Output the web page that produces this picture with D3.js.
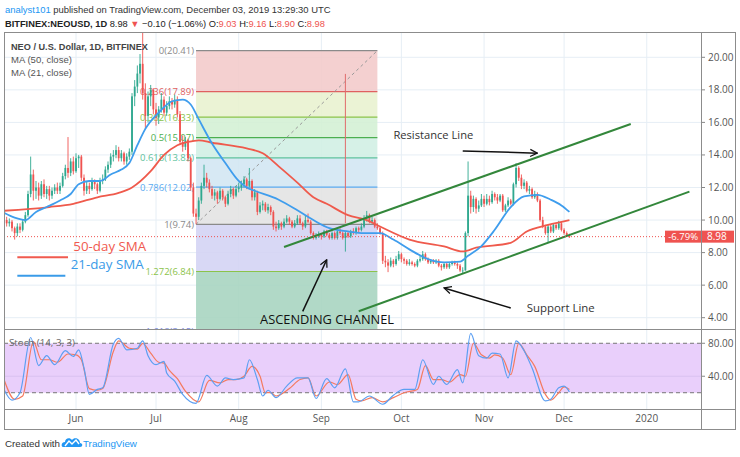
<!DOCTYPE html>
<html><head><meta charset="utf-8">
<script src="https://cdn.jsdelivr.net/npm/d3@7"></script>
<style>body{margin:0;background:#fff;} svg{display:block;font-family:"Open Sans","Liberation Sans",sans-serif;}</style>
</head><body><svg id="c" width="740" height="457"></svg>
<script>
// ---------- DATA ----------
const firstDay = "2019-05-05";           // first daily candle
const lastDay  = "2020-01-21";           // right edge of the time scale
// daily candles [open, high, low, close]
const mayBars = [
[10.2,10.4,9.8,10.0],[10.0,10.2,9.6,9.8],[9.8,10.1,9.6,9.9],[9.9,10.0,9.3,9.5],[9.5,9.6,8.8,9.2],
[9.2,9.8,9.0,9.6],[9.6,9.8,9.2,9.4],[9.4,10.0,9.3,9.9],[9.9,10.5,9.8,10.3],[10.3,11.8,10.2,11.6],
[11.6,13.9,11.4,12.8],[12.8,13.1,11.2,11.8],[11.8,12.4,11.3,12.0],[12.0,12.3,11.2,11.5],[11.5,12.4,11.3,12.2],
[12.2,12.5,11.4,11.6],[11.6,12.1,11.3,11.9],[11.9,12.1,11.2,11.5],[11.5,12.0,11.3,11.8],[11.8,12.2,11.6,12.0],
[12.0,12.3,11.6,11.8],[11.8,12.3,11.6,12.1],[12.1,12.9,12.0,12.7],[12.7,13.4,12.5,13.2],[13.2,15.1,12.6,12.9],
[12.9,13.8,12.7,13.6],[13.6,13.9,12.8,13.0]];
const junBars = [
[13.0,14.1,12.9,13.8],[13.8,14.0,13.2,13.9],[13.9,14.0,12.4,12.6],[12.6,12.8,11.5,11.8],[11.8,12.4,11.6,12.1],
[12.1,12.3,11.6,11.9],[11.9,12.6,11.8,12.4],[12.4,12.5,11.9,12.2],[12.2,12.3,11.6,11.8],[11.8,12.6,11.7,12.4],
[12.4,12.8,12.2,12.5],[12.5,13.3,12.4,13.1],[13.1,13.6,12.9,13.4],[13.4,14.1,13.2,13.9],[13.9,14.3,13.6,14.0],
[14.0,14.6,13.8,14.3],[14.3,14.5,13.6,13.8],[13.8,14.3,13.6,14.1],[14.1,14.2,13.4,13.6],[13.6,14.1,13.4,13.9],
[13.9,14.4,13.7,14.2],[14.2,17.8,14.0,17.6],[17.6,18.6,17.0,18.2],[18.2,19.5,17.8,19.0],[19.0,20.2,18.4,19.6],
[19.6,21.8,17.4,17.8],[17.8,18.4,15.6,16.4],[16.4,17.9,16.0,17.6],[17.6,18.3,17.0,18.0],[18.0,18.1,16.5,16.8]];
const julBars = [
[16.8,17.2,15.8,16.3],[16.3,17.0,15.9,16.8],[16.8,17.8,16.6,17.4],[17.4,17.6,16.4,16.6],[16.6,17.3,16.4,17.0],
[17.0,17.6,16.8,17.3],[17.3,17.5,16.8,17.1],[17.1,17.7,16.9,17.4],[17.4,17.6,16.3,16.5],[16.5,16.7,14.6,14.8],
[14.8,15.2,14.2,14.5],[14.5,15.1,14.3,14.9],[14.9,15.0,13.6,13.8],[13.8,13.9,11.8,12.0],[12.0,12.3,10.2,10.4],
[10.4,10.7,9.74,10.2],[10.2,11.4,10.0,11.2],[11.2,12.3,11.0,12.1],[12.1,13.4,11.9,12.6],[12.6,12.9,12.0,12.3],
[12.3,12.5,11.7,11.9],[11.9,12.1,11.3,11.5],[11.5,11.9,11.2,11.7],[11.7,11.8,11.0,11.3],[11.3,12.0,11.2,11.8],
[11.8,11.9,11.2,11.4],[11.4,11.5,10.8,11.0],[11.0,11.8,10.9,11.6],[11.6,12.1,11.4,11.9],[11.9,12.0,11.3,11.5],
[11.5,12.1,11.4,11.9]];
const augBars = [
[11.9,12.3,11.7,12.0],[12.0,12.4,11.8,12.2],[12.2,12.7,12.0,12.5],[12.5,12.6,11.9,12.1],[12.1,13.2,12.0,12.4],
[12.4,12.5,11.2,11.4],[11.4,11.9,11.2,11.7],[11.7,11.8,10.3,10.5],[10.5,11.1,10.4,10.9],[10.9,11.2,10.6,11.0],
[11.0,11.1,10.5,10.6],[10.6,11.0,10.4,10.8],[10.8,10.9,10.3,10.5],[10.5,10.6,9.4,9.6],[9.6,9.9,9.3,9.5],
[9.5,10.0,9.4,9.8],[9.8,9.9,9.4,9.6],[9.6,10.1,9.5,9.9],[9.9,10.3,9.8,10.1],[10.1,10.2,9.7,9.9],
[9.9,10.0,9.5,9.6],[9.6,10.0,9.5,9.8],[9.8,10.3,9.7,10.1],[10.1,10.3,9.7,9.8],[9.8,9.9,9.4,9.6],
[9.6,10.3,9.5,10.0],[10.0,10.4,9.8,9.9],[9.9,10.0,9.1,9.2],[9.2,9.3,8.8,8.9],[8.9,9.2,8.8,9.0],
[9.0,9.3,8.9,9.1]];
const sepBars = [
[9.1,9.2,8.8,9.0],[9.0,9.4,8.9,9.3],[9.3,9.4,9.0,9.1],[9.1,9.2,8.8,8.9],[8.9,9.3,8.8,9.2],
[9.2,9.3,8.8,8.9],[8.9,9.5,8.8,9.3],[9.3,9.5,9.1,9.2],[9.2,9.3,8.8,8.9],[8.9,9.3,8.06,9.2],
[9.2,9.3,8.9,9.0],[9.0,9.4,8.9,9.3],[9.3,9.5,9.1,9.2],[9.2,9.6,9.1,9.5],[9.5,9.6,9.2,9.4],
[9.4,9.8,9.3,9.6],[9.6,10.3,9.5,10.1],[10.1,10.56,9.9,10.3],[10.3,10.4,9.8,9.9],[9.9,10.2,9.8,10.0],
[10.0,10.1,9.5,9.6],[9.6,9.8,9.4,9.5],[9.5,9.6,9.1,9.2],[9.2,9.3,7.3,7.5],[7.5,7.8,7.1,7.4],
[7.4,7.6,6.8,7.2],[7.2,7.7,7.1,7.5],[7.5,7.6,7.1,7.3],[7.3,7.8,7.2,7.6],[7.6,8.1,7.5,7.9]];
const octBars = [
[7.9,8.0,7.4,7.6],[7.6,7.7,7.3,7.5],[7.5,7.6,7.2,7.3],[7.3,7.6,7.2,7.4],[7.4,7.5,7.2,7.3],
[7.3,7.4,7.1,7.2],[7.2,7.6,7.1,7.5],[7.5,7.8,7.4,7.6],[7.6,8.1,7.5,7.9],[7.9,8.0,7.5,7.6],
[7.6,7.7,7.3,7.4],[7.4,7.6,7.3,7.5],[7.5,7.6,7.3,7.4],[7.4,7.6,7.3,7.5],[7.5,7.6,7.1,7.2],
[7.2,7.3,6.9,7.1],[7.1,7.4,7.0,7.3],[7.3,7.4,7.0,7.1],[7.1,7.4,7.0,7.3],[7.3,7.5,7.2,7.4],
[7.4,7.5,7.2,7.3],[7.3,7.4,7.0,7.2],[7.2,7.3,6.8,6.9],[6.9,7.1,6.7,6.9],[6.9,9.3,6.9,9.2],
[9.2,13.6,9.0,11.5],[11.5,11.8,10.4,10.8],[10.8,11.5,10.5,11.3],[11.3,11.4,10.4,10.7],[10.7,11.2,10.5,10.9],
[10.9,11.6,10.8,11.3]];
const novBars = [
[11.3,11.5,10.8,11.0],[11.0,11.6,10.9,11.3],[11.3,11.5,10.9,11.1],[11.1,11.8,11.0,11.6],[11.6,11.7,11.2,11.4],
[11.4,11.6,11.0,11.2],[11.2,11.6,11.1,11.5],[11.5,11.6,10.5,10.6],[10.6,11.0,10.5,10.9],[10.9,11.4,10.8,11.2],
[11.2,11.3,10.9,11.0],[11.0,12.3,10.9,12.2],[12.2,13.5,12.0,13.2],[13.2,13.3,12.4,12.6],[12.6,12.8,11.9,12.1],
[12.1,12.5,11.9,12.3],[12.3,12.4,11.7,11.8],[11.8,12.1,11.6,11.9],[11.9,12.0,11.3,11.4],[11.4,11.8,11.3,11.6],
[11.6,11.7,11.1,11.2],[11.2,11.3,9.9,10.0],[10.0,10.2,9.5,9.6],[9.6,9.7,9.1,9.2],[9.2,9.7,8.6,9.6],
[9.6,9.7,9.2,9.3],[9.3,9.8,9.2,9.7],[9.7,9.8,9.4,9.5],[9.5,9.95,9.4,9.8],[9.8,9.9,9.3,9.4]];
const decBars = [[9.4,9.5,9.1,9.2],[9.2,9.3,9.0,9.08],[9.03,9.16,8.90,8.98]];

// moving averages [dayIndex, value]
const ma50 = [[0,10.57],[17,10.8],[26,11.0],[35,11.4],[43,11.67],[48,12.0],[55,13.0],[60,14.0],[65,14.6],[69,14.8],
 [73,14.9],[78,14.75],[91,14.4],[97,14.1],[103,13.3],[110,12.3],[116,11.4],[121,11.0],[129,10.3],[136,10.0],
 [141,9.6],[152,8.8],[165,8.38],[172,8.07],[177,8.3],[190,8.6],[196,9.3],[204,9.7],[212,10.0]];
const ma21 = [[0,10.45],[4,10.15],[8,10.0],[12,10.5],[16,10.8],[21,11.2],[25,11.6],[28,12.2],[32,12.4],[36,12.4],
 [40,12.8],[44,13.1],[47,13.5],[50,14.6],[53,15.6],[58,16.6],[63,17.3],[67,17.4],[70,17.1],[73,16.2],[78,14.7],
 [83,13.5],[88,12.4],[91,12.0],[94,11.8],[103,11.25],[110,10.6],[116,10.0],[122,9.5],[129,9.3],[135,9.2],[141,9.2],
 [146,8.8],[152,8.2],[159,7.6],[165,7.4],[171,7.45],[174,7.8],[179,8.4],[184,9.4],[190,10.8],[195,11.45],[200,11.55],
 [205,11.25],[209,10.9],[212,10.5]];

// stochastic (14,3,3) [dayIndex, value]
const stochK = [[0,24],[3,11],[6,20],[10,87],[13,53],[16,65],[19,54],[23,71],[26,64],[28,72],[30,50],[32,18],[35,24],
 [37,26],[41,79],[43,86],[46,72],[50,74],[52,83],[54,65],[57,54],[60,58],[61,44],[64,34],[67,18],[72,7],[76,41],
 [80,28],[83,38],[86,36],[90,38],[92,60],[95,36],[97,16],[99,23],[102,14],[106,28],[110,38],[114,38],[117,13],
 [121,37],[124,26],[128,49],[131,9],[133,9],[137,16],[142,6],[146,17],[150,24],[154,24],[157,60],[161,30],[163,40],
 [166,30],[170,48],[172,32],[175,92],[178,65],[181,62],[183,68],[186,67],[189,38],[192,83],[195,71],[198,50],
 [203,10],[205,12],[208,26],[210,28],[212,21]];
const stochD = [[0,36],[4,12],[7,16],[11,82],[14,60],[17,60],[20,57],[24,67],[27,66],[29,60],[32,25],[35,23],[37,25],
 [41,70],[43,83],[47,74],[50,73],[52,80],[55,68],[58,57],[60,56],[62,47],[65,37],[68,22],[73,9],[77,35],[81,32],
 [84,36],[87,36],[90,40],[93,52],[96,40],[98,20],[100,20],[102,16],[107,25],[111,36],[114,38],[117,16],[122,33],
 [125,30],[129,42],[132,12],[134,10],[138,14],[142,9],[146,14],[150,20],[155,24],[158,53],[161,36],[164,36],
 [167,33],[171,42],[173,40],[176,80],[179,66],[182,62],[184,66],[187,62],[190,42],[193,80],[196,66],[199,52],
 [203,18],[205,11],[208,20],[210,27],[212,24]];

// fibonacci retracement
const fibStart = "2019-07-16", fibEnd = "2019-09-22";
const fibRatios = [0, 0.236, 0.382, 0.5, 0.618, 0.786, 1, 1.272, 1.618];
const fibValues = [20.41, 17.89, 16.33, 15.07, 13.82, 12.02, 9.74, 6.84, 3.15];

const priceTicks = [4, 6, 8, 10, 12, 14, 16, 18, 20];
const stochTicks = [40, 80];
const lastPrice = 8.98, lastPct = "-6.79%";
const header = {user:"analyst101", date:"December 03, 2019 13:29:30 UTC", sym:"BITFINEX:NEOUSD, 1D",
  last:"8.98", chg:"\u22120.10 (\u22121.06%)", o:"9.03", h:"9.16", l:"8.90", c:"8.98"};

// ---------- SETUP ----------
const parse = d3.utcParse("%Y-%m-%d");
const t0 = parse(firstDay);
const bars = [...mayBars, ...junBars, ...julBars, ...augBars, ...sepBars, ...octBars, ...novBars, ...decBars];
const day = i => d3.utcDay.offset(t0, i);

const L = 4, R = 701, T = 32, B = 329, SB = 409, AB = 429, RR = 736;
const x = d3.scaleUtc().domain([t0, parse(lastDay)]).range([4, 700.1]);
const y = d3.scaleLinear().domain([4, 20]).range([317.7, 57.3]);
const ys = d3.scaleLinear().domain([0, 100]).range([409.2, 326.8]);
const uiFont = "'Liberation Sans', Arial, sans-serif";

const svg = d3.select("#c");
const defs = svg.append("defs");
defs.append("clipPath").attr("id","mainClip").append("rect").attr("x",L).attr("y",T).attr("width",R-L).attr("height",B-T);
defs.append("clipPath").attr("id","stClip").append("rect").attr("x",L).attr("y",B).attr("width",R-L).attr("height",SB-B);
defs.append("marker").attr("id","arr").attr("viewBox","0 0 10 10").attr("refX",9).attr("refY",5)
  .attr("markerWidth",9).attr("markerHeight",9).attr("orient","auto").attr("markerUnits","userSpaceOnUse")
  .append("path").attr("d","M1,1 L9,5 L1,9").attr("fill","none").attr("stroke","#111").attr("stroke-width",1.4);

const monthTicks = x.ticks(d3.utcMonth.every(1));
const gridColor = "#e6eef5";

// helper: scale a text's font size so it spans the width measured on the reference
function fitFont(sel, w){
  const n = sel.node(), cur = n.getComputedTextLength(), fs = parseFloat(sel.attr("font-size"));
  if (cur > 0) sel.attr("font-size", (fs * w / cur).toFixed(2));
  return sel;
}

// grid
const grid = svg.append("g");
grid.selectAll(".vg").data(monthTicks).join("line")
  .attr("x1",d=>x(d)).attr("x2",d=>x(d)).attr("y1",T).attr("y2",SB).attr("stroke",gridColor);
grid.selectAll(".hg").data(priceTicks).join("line")
  .attr("x1",L).attr("x2",R).attr("y1",d=>y(d)).attr("y2",d=>y(d)).attr("stroke",gridColor);

// ---------- MAIN PANE ----------
const main = svg.append("g").attr("clip-path","url(#mainClip)");

// fib retracement
const fx0 = x(parse(fibStart)), fx1 = x(parse(fibEnd));
const fibFill = ["#f2c9c9","#e8f1cf","#d3f0d4","#d0efe4","#d2e6f3","#e2e2e2","#d3d3f4","#a6d4bf"];
const fibLine = ["#8a8a8a","#e06060","#8bc34a","#4caf50","#5ec29c","#5aaaf0","#8a8a8a","#8bc34a","#7f8ee0"];
for (let i = 0; i < fibValues.length - 1; i++) {
  main.append("rect").attr("x",fx0).attr("width",fx1-fx0)
    .attr("y",y(fibValues[i])).attr("height",y(fibValues[i+1])-y(fibValues[i]))
    .attr("fill",fibFill[i]).attr("fill-opacity",0.88);
}
fibValues.forEach((v,i)=>{
  main.append("line").attr("x1",fx0).attr("x2",fx1).attr("y1",y(v)).attr("y2",y(v))
    .attr("stroke",fibLine[i]).attr("stroke-width",1.2);
  main.append("text").attr("x",fx0-2).attr("y",y(v)+3.5).attr("text-anchor","end")
    .attr("font-size",9.5).attr("fill",fibLine[i]).text(`${fibRatios[i]}(${v.toFixed(2)})`);
});
main.append("line").attr("x1",fx0).attr("y1",y(fibValues[6])).attr("x2",fx1).attr("y2",y(fibValues[0]))
  .attr("stroke","#999").attr("stroke-dasharray","3,3").attr("stroke-width",1);

// vertical marker line
const vLine = {date:"2019-09-10", from:18.98, to:9.8};
main.append("line").attr("x1",x(parse(vLine.date))).attr("x2",x(parse(vLine.date)))
  .attr("y1",y(vLine.from)).attr("y2",y(vLine.to)).attr("stroke","#e06a6a").attr("stroke-width",1);

// candles
const up = "#2fa88f", dn = "#ef5350";
const cw = 1.8;
const cg = main.append("g");
bars.forEach((b,i)=>{
  const [o,h,l,c] = b, cx = x(day(i)), col = c >= o ? up : dn;
  cg.append("line").attr("x1",cx).attr("x2",cx).attr("y1",y(h)).attr("y2",y(l)).attr("stroke",col).attr("stroke-width",0.9);
  const top = y(Math.max(o,c)), bot = y(Math.min(o,c));
  cg.append("rect").attr("x",cx-cw/2).attr("width",cw).attr("y",top).attr("height",Math.max(0.8,bot-top)).attr("fill",col);
});

// moving averages
const maLine = d3.line().x(d=>x(day(d[0]))).y(d=>y(d[1])).curve(d3.curveMonotoneX);
main.append("path").attr("d",maLine(ma50)).attr("fill","none").attr("stroke","#ef5a4c").attr("stroke-width",1.8);
main.append("path").attr("d",maLine(ma21)).attr("fill","none").attr("stroke","#3f9ded").attr("stroke-width",1.8);

// channel lines [date, price]
const resistance = [["2019-08-18",8.34],["2019-12-26",15.9]];
const support = [["2019-09-15",4.4],["2020-01-17",11.75]];
[resistance, support].forEach(ln=>{
  main.append("line").attr("x1",x(parse(ln[0][0]))).attr("y1",y(ln[0][1]))
    .attr("x2",x(parse(ln[1][0]))).attr("y2",y(ln[1][1])).attr("stroke","#33873b").attr("stroke-width",2);
});

// arrows [from, to]
const arrows = [
  [["2019-08-25",4.39],["2019-09-03",7.56]],
  [["2019-10-24",14.25],["2019-11-21",14.11]],
  [["2019-11-11",4.6],["2019-10-17",5.83]]];
arrows.forEach(a=>{
  main.append("line").attr("x1",x(parse(a[0][0]))).attr("y1",y(a[0][1]))
    .attr("x2",x(parse(a[1][0]))).attr("y2",y(a[1][1])).attr("stroke","#111").attr("stroke-width",1.5)
    .attr("marker-end","url(#arr)");
});

// annotation texts [text, date, price, size, color, width]
const notes = [
  ["Resistance Line","2019-09-28",14.95,11.5,"#333",80],
  ["Support Line","2019-11-17",4.37,11.5,"#333",68],
  ["ASCENDING CHANNEL","2019-08-09",3.6,13,"#111",134],
  ["50-day SMA","2019-05-31",8.12,13.5,"#f05a4f",73],
  ["21-day SMA","2019-05-30",7.0,13.5,"#3a9be8",73]];
notes.forEach(n=>{
  fitFont(main.append("text").attr("x",x(parse(n[1]))).attr("y",y(n[2])).attr("font-size",n[3]).attr("fill",n[4]).text(n[0]), n[5]);
});
// legend lines for SMA labels
const smaKeys = [["2019-05-10","2019-05-29",7.72,"#f05a4f"],["2019-05-10","2019-05-28",6.57,"#3a9be8"]];
smaKeys.forEach(k=>{
  main.append("line").attr("x1",x(parse(k[0]))).attr("x2",x(parse(k[1]))).attr("y1",y(k[2])).attr("y2",y(k[2]))
    .attr("stroke",k[3]).attr("stroke-width",2);
});

// current price line
main.append("line").attr("x1",L).attr("x2",R).attr("y1",y(lastPrice)).attr("y2",y(lastPrice))
  .attr("stroke","#ef5350").attr("stroke-dasharray","1,2").attr("stroke-width",1);
main.append("rect").attr("x",R-36).attr("y",y(lastPrice)-6).attr("width",36).attr("height",12).attr("fill","#ef5350");
main.append("text").attr("x",R-3).attr("y",y(lastPrice)+3.5).attr("text-anchor","end").attr("font-size",9.5)
  .attr("fill","#fff").text(lastPct);

// legend top-left
const lg = svg.append("g").attr("font-family",uiFont);
fitFont(lg.append("text").attr("x",11).attr("y",50).attr("font-size",10.5).attr("fill","#444").attr("font-weight",700).text("NEO / U.S. Dollar, 1D, BITFINEX"),137);
fitFont(lg.append("text").attr("x",11).attr("y",63).attr("font-size",10.5).attr("fill","#555").text("MA (50, close)"),61);
fitFont(lg.append("text").attr("x",11).attr("y",76).attr("font-size",10.5).attr("fill","#555").text("MA (21, close)"),61);

// ---------- STOCH PANE ----------
const st = svg.append("g").attr("clip-path","url(#stClip)");
st.append("rect").attr("x",L).attr("width",R-L).attr("y",ys(80)).attr("height",ys(20)-ys(80)).attr("fill","#e9cffb");
st.append("line").attr("x1",L).attr("x2",R).attr("y1",ys(40)).attr("y2",ys(40)).attr("stroke","#d9c2f0");
[80,20].forEach(v=>st.append("line").attr("x1",L).attr("x2",R).attr("y1",ys(v)).attr("y2",ys(v))
  .attr("stroke","#777").attr("stroke-dasharray","4,3"));
const sLine = d3.line().x(d=>x(day(d[0]))).y(d=>ys(d[1])).curve(d3.curveMonotoneX);
st.append("path").attr("d",sLine(stochD)).attr("fill","none").attr("stroke","#f47a5f").attr("stroke-width",1.2);
st.append("path").attr("d",sLine(stochK)).attr("fill","none").attr("stroke","#5c9ff2").attr("stroke-width",1.2);
fitFont(svg.append("text").attr("x",9).attr("y",346).attr("font-size",10).attr("fill","#666").text("Stoch (14, 3, 3)"),66);

// ---------- AXES & FRAME ----------
const ax = svg.append("g").attr("font-size",10).attr("fill","#555");
priceTicks.forEach(v=>{
  ax.append("line").attr("x1",R).attr("x2",R+4).attr("y1",y(v)).attr("y2",y(v)).attr("stroke","#888");
  ax.append("text").attr("x",R+7).attr("y",y(v)+3.5).text(v.toFixed(2));
});
stochTicks.forEach(v=>{
  ax.append("line").attr("x1",R).attr("x2",R+4).attr("y1",ys(v)).attr("y2",ys(v)).attr("stroke","#888");
  ax.append("text").attr("x",R+7).attr("y",ys(v)+3.5).text(v.toFixed(2));
});
const fmt = d => d.getUTCMonth() === 0 ? d3.utcFormat("%Y")(d) : d3.utcFormat("%b")(d);
monthTicks.forEach(d=>{
  ax.append("text").attr("x",x(d)).attr("y",422).attr("text-anchor","middle").text(fmt(d));
});
// price label on axis
svg.append("rect").attr("x",R+1).attr("y",y(lastPrice)-6).attr("width",32).attr("height",12).attr("fill","#ef5350");
svg.append("text").attr("x",R+6).attr("y",y(lastPrice)+3.5).attr("font-size",10).attr("fill","#fff").text(lastPrice.toFixed(2));

const fr = svg.append("g").attr("stroke","#8c8c8c").attr("fill","none");
fr.append("rect").attr("x",L+0.5).attr("y",T+0.5).attr("width",RR-L-1).attr("height",AB-T);
fr.append("line").attr("x1",L).attr("x2",RR).attr("y1",B+0.5).attr("y2",B+0.5);
fr.append("line").attr("x1",L).attr("x2",RR).attr("y1",SB+0.5).attr("y2",SB+0.5);
fr.append("line").attr("x1",R+0.5).attr("x2",R+0.5).attr("y1",T).attr("y2",AB);

// ---------- HEADER ----------
const h1 = svg.append("text").attr("x",5).attr("y",13).attr("font-size",11).attr("font-family",uiFont);
h1.append("tspan").attr("fill","#2196f3").text(header.user);
h1.append("tspan").attr("fill","#333").text(` published on TradingView.com, ${header.date}`);
fitFont(h1, 326);
const h2 = svg.append("text").attr("x",5).attr("y",27).attr("font-size",11).attr("fill","#222").attr("font-family",uiFont);
h2.append("tspan").attr("font-weight",700).text(header.sym);
h2.append("tspan").text(` ${header.last} `);
h2.append("tspan").attr("fill","#ef5350").text("\u25BC");
h2.append("tspan").text(` ${header.chg} O:`);
h2.append("tspan").attr("fill","#ef5350").text(header.o);
h2.append("tspan").text(" H:");
h2.append("tspan").attr("fill","#ef5350").text(header.h);
h2.append("tspan").text(" L:");
h2.append("tspan").attr("fill","#ef5350").text(header.l);
h2.append("tspan").text(" C:");
h2.append("tspan").attr("fill","#ef5350").text(header.c);
fitFont(h2, 320);

// footer
fitFont(svg.append("text").attr("x",5).attr("y",447).attr("font-size",11).attr("font-family",uiFont).attr("fill","#333").text("Created with"),55);
const logo = svg.append("g").attr("transform","translate(62,436)");
logo.append("path").attr("d","M1,11 C-1,11 -1,6 3,6 C3,2 8,1 10,4 C12,1 18,2 18,7 C21,7 21,11 18,11 Z").attr("fill","#2196f3");
logo.append("path").attr("d","M3,10 L7,5 L10,8 L14,4 L17,8").attr("fill","none").attr("stroke","#fff").attr("stroke-width",1.4);
fitFont(svg.append("text").attr("x",83).attr("y",447).attr("font-size",11).attr("font-family",uiFont).attr("fill","#2196f3").text("TradingView"),54);
</script>
</body></html>
